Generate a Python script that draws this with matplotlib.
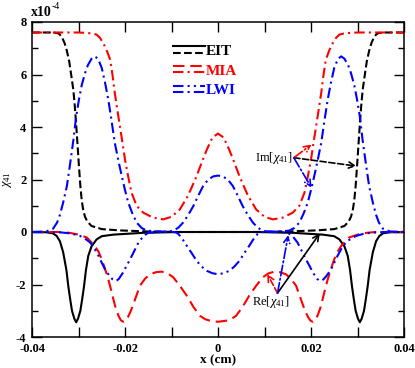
import matplotlib
matplotlib.use("Agg")
import matplotlib.pyplot as plt
from matplotlib.lines import Line2D
from matplotlib.ticker import MultipleLocator, FuncFormatter

plt.rcParams['font.family'] = ['Liberation Serif', 'DejaVu Serif']
plt.rcParams['mathtext.fontset'] = 'custom'
plt.rcParams['mathtext.rm'] = 'Liberation Serif'
plt.rcParams['mathtext.it'] = 'Liberation Serif:italic'
plt.rcParams['mathtext.bf'] = 'Liberation Serif:bold'
plt.rcParams['axes.unicode_minus'] = False

# chi_41 in units of 1e-4, x in cm
eit_im_x = [-0.040, -0.036, -0.0345, -0.034, -0.0335, -0.033, -0.0325, -0.032, -0.0315, -0.0311,
            -0.0308, -0.0305, -0.0302, -0.0299, -0.0296, -0.0293, -0.029, -0.0286, -0.0281, -0.0272,
            -0.025, -0.021, -0.015, -0.008, 0.0,
            0.008, 0.015, 0.021, 0.025, 0.0272, 0.0281, 0.0286, 0.029, 0.0293, 0.0296,
            0.0299, 0.0302, 0.0305, 0.0308, 0.0311, 0.0315, 0.032, 0.0325, 0.033, 0.0335,
            0.034, 0.0345, 0.036, 0.040]
eit_im_y = [7.6, 7.6, 7.58, 7.52, 7.4, 7.2, 6.9, 6.5, 5.9, 5.4,
            4.8, 4.1, 3.3, 2.5, 1.75, 1.2, 0.85, 0.58, 0.4, 0.23,
            0.11, 0.06, 0.02, 0.0, 0.0,
            0.0, 0.02, 0.06, 0.11, 0.23, 0.4, 0.58, 0.85, 1.2, 1.75,
            2.5, 3.3, 4.1, 4.8, 5.4, 5.9, 6.5, 6.9, 7.2, 7.4,
            7.52, 7.58, 7.6, 7.6]

eit_re_x = [-0.040, -0.037, -0.0355, -0.0347, -0.034, -0.0333, -0.0326, -0.0322, -0.0318, -0.0314,
            -0.0309, -0.0305, -0.0301, -0.0296, -0.0292, -0.0288, -0.0284, -0.0279, -0.0272, -0.0261,
            -0.025, -0.0225, -0.016, -0.008, 0.0,
            0.008, 0.016, 0.0225, 0.025, 0.0261, 0.0272, 0.0279, 0.0284, 0.0288, 0.0292,
            0.0296, 0.0301, 0.0305, 0.0309, 0.0314, 0.0318, 0.0322, 0.0326, 0.0333, 0.034,
            0.0347, 0.0355, 0.037, 0.040]
eit_re_y = [0.0, -0.01, -0.05, -0.15, -0.35, -0.77, -1.45, -2.05, -2.55, -3.0,
            -3.3, -3.44, -3.3, -3.0, -2.55, -2.05, -1.45, -0.91, -0.55, -0.28,
            -0.16, -0.1, -0.03, 0.0, 0.0,
            0.0, -0.03, -0.1, -0.16, -0.28, -0.55, -0.91, -1.45, -2.05, -2.55,
            -3.0, -3.3, -3.44, -3.3, -3.0, -2.55, -2.05, -1.45, -0.77, -0.35,
            -0.15, -0.05, -0.01, 0.0]

mia_im_x = [-0.040, -0.030, -0.028, -0.027, -0.0261, -0.0254, -0.0247, -0.024, -0.0232, -0.0227,
            -0.0222, -0.0216, -0.0211, -0.0205, -0.020, -0.0193, -0.0186, -0.0175, -0.0161, -0.014,
            -0.0118, -0.010, -0.0082, -0.0064, -0.0046, -0.0035, -0.0024, -0.0012, 0.0,
            0.0012, 0.0024, 0.0035, 0.0046, 0.0064, 0.0082, 0.010, 0.0118, 0.014, 0.0161,
            0.0175, 0.0186, 0.0193, 0.020, 0.0205, 0.0211, 0.0216, 0.0222, 0.0227, 0.0232,
            0.024, 0.0247, 0.0254, 0.0261, 0.027, 0.028, 0.030, 0.040]
mia_im_y = [7.6, 7.6, 7.58, 7.56, 7.52, 7.4, 7.2, 6.95, 6.57, 6.0,
            5.3, 4.6, 4.03, 3.35, 2.76, 2.1, 1.5, 1.0, 0.74, 0.55,
            0.48, 0.58, 0.86, 1.4, 2.13, 2.65, 3.14, 3.6, 3.75,
            3.6, 3.14, 2.65, 2.13, 1.4, 0.86, 0.58, 0.48, 0.55, 0.74,
            1.0, 1.5, 2.1, 2.76, 3.35, 4.03, 4.6, 5.3, 6.0, 6.57,
            6.95, 7.2, 7.4, 7.52, 7.56, 7.58, 7.6, 7.6]

mia_re_x = [-0.040, -0.034, -0.032, -0.030, -0.0282, -0.0265, -0.0257, -0.025, -0.0243, -0.0236,
            -0.023, -0.0225, -0.022, -0.0214, -0.0209, -0.0204, -0.0199, -0.0194, -0.0189, -0.0183,
            -0.0176, -0.0168, -0.0157, -0.0146, -0.0133, -0.0121, -0.0108, -0.0096, -0.0082, -0.0067,
            -0.0053, -0.0039, -0.0028, -0.0017, 0.0,
            0.0017, 0.0028, 0.0039, 0.0053, 0.0067, 0.0082, 0.0096, 0.0108, 0.0121, 0.0133,
            0.0146, 0.0157, 0.0168, 0.0176, 0.0183, 0.0189, 0.0194, 0.0199, 0.0204, 0.0209,
            0.0214, 0.022, 0.0225, 0.023, 0.0236, 0.0243, 0.025, 0.0257, 0.0265, 0.0282,
            0.030, 0.032, 0.034, 0.040]
mia_re_y = [0.0, 0.0, -0.03, -0.1, -0.21, -0.53, -0.75, -1.04, -1.4, -1.8,
            -2.2, -2.56, -2.9, -3.19, -3.36, -3.42, -3.38, -3.25, -3.07, -2.8,
            -2.45, -2.05, -1.78, -1.61, -1.53, -1.51, -1.58, -1.73, -2.05, -2.43,
            -2.85, -3.19, -3.32, -3.38, -3.42,
            -3.38, -3.32, -3.19, -2.85, -2.43, -2.05, -1.73, -1.58, -1.51, -1.53,
            -1.61, -1.78, -2.05, -2.45, -2.8, -3.07, -3.25, -3.38, -3.42, -3.36,
            -3.19, -2.9, -2.56, -2.2, -1.8, -1.4, -1.04, -0.75, -0.53, -0.21,
            -0.1, -0.03, 0.0, 0.0]

lwi_im_x = [-0.040, -0.037, -0.0355, -0.0346, -0.034, -0.0333, -0.0325, -0.0318, -0.0311, -0.0305,
            -0.0299, -0.0293, -0.0286, -0.028, -0.0272, -0.0265, -0.0258, -0.025, -0.0243, -0.0236,
            -0.0229, -0.0222, -0.0214, -0.0207, -0.020, -0.0193, -0.0184, -0.0175, -0.0164, -0.0153,
            -0.013, -0.0105, -0.0095, -0.0085, -0.0075, -0.0064, -0.0053, -0.0042, -0.0032, -0.0021,
            -0.001, 0.0,
            0.001, 0.0021, 0.0032, 0.0042, 0.0053, 0.0064, 0.0075, 0.0085, 0.0095, 0.0105,
            0.013, 0.0153, 0.0164, 0.0175, 0.0184, 0.0193, 0.020, 0.0207, 0.0214, 0.0222,
            0.0229, 0.0236, 0.0243, 0.025, 0.0258, 0.0265, 0.0272, 0.028, 0.0286, 0.0293,
            0.0299, 0.0305, 0.0311, 0.0318, 0.0325, 0.0333, 0.034, 0.0346, 0.0355, 0.037,
            0.040]
lwi_im_y = [0.0, 0.02, 0.12, 0.36, 0.65, 1.12, 1.75, 2.6, 3.5, 4.4,
            5.05, 5.6, 6.05, 6.35, 6.6, 6.69, 6.6, 6.25, 5.7, 5.05,
            4.25, 3.4, 2.7, 2.13, 1.6, 1.12, 0.7, 0.36, 0.15, 0.05,
            0.02, 0.02, 0.06, 0.17, 0.36, 0.65, 0.99, 1.4, 1.75, 2.0,
            2.12, 2.15,
            2.12, 2.0, 1.75, 1.4, 0.99, 0.65, 0.36, 0.17, 0.06, 0.02,
            0.02, 0.05, 0.15, 0.36, 0.7, 1.12, 1.6, 2.13, 2.7, 3.4,
            4.25, 5.05, 5.7, 6.25, 6.6, 6.69, 6.6, 6.35, 6.05, 5.6,
            5.05, 4.4, 3.5, 2.6, 1.75, 1.12, 0.65, 0.36, 0.12, 0.02,
            0.0]

lwi_re_x = [-0.040, -0.036, -0.0335, -0.0315, -0.0297, -0.0286, -0.0275, -0.0266, -0.0257, -0.025,
            -0.0243, -0.0237, -0.0232, -0.0227, -0.0222, -0.0217, -0.0213, -0.0204, -0.0197, -0.0189,
            -0.018, -0.0171, -0.016, -0.015, -0.013, -0.0095, -0.009, -0.0085, -0.0076, -0.0067,
            -0.0056, -0.0046, -0.0035, -0.0024, -0.0012, 0.0,
            0.0012, 0.0024, 0.0035, 0.0046, 0.0056, 0.0067, 0.0076, 0.0085, 0.009, 0.0095,
            0.013, 0.015, 0.016, 0.0171, 0.018, 0.0189, 0.0197, 0.0204, 0.0213, 0.0217,
            0.0222, 0.0227, 0.0232, 0.0237, 0.0243, 0.025, 0.0257, 0.0266, 0.0275, 0.0286,
            0.0297, 0.0315, 0.0335, 0.036, 0.040]
lwi_re_y = [0.0, 0.0, -0.02, -0.06, -0.15, -0.25, -0.4, -0.62, -0.91, -1.17,
            -1.42, -1.58, -1.7, -1.8, -1.86, -1.84, -1.78, -1.54, -1.3, -1.04,
            -0.72, -0.4, -0.15, -0.03, 0.0, 0.0, -0.02, -0.08, -0.28, -0.53,
            -0.82, -1.1, -1.32, -1.48, -1.57, -1.61,
            -1.57, -1.48, -1.32, -1.1, -0.82, -0.53, -0.28, -0.08, -0.02, 0.0,
            0.0, -0.03, -0.15, -0.4, -0.72, -1.04, -1.3, -1.54, -1.78, -1.84,
            -1.86, -1.8, -1.7, -1.58, -1.42, -1.17, -0.91, -0.62, -0.4, -0.25,
            -0.15, -0.06, -0.02, 0.0, 0.0]

legend_labels = ["EIT", "MIA", "LWI"]

RED = '#ff0000'
BLUE = '#0000ff'
LW = 1.5
DASH = (0, (3.7, 1.6))
LONGDASH = (0, (5.5, 2.8))
DASHDOT = (0, (5.0, 2.0, 1.0, 2.0))
DASHDOTDOT = (0, (5.0, 2.0, 1.0, 2.0, 1.0, 2.0))


class PairHandler:
    """legend handle: Re line on top, Im line below"""
    def legend_artist(self, legend, orig_handle, fontsize, handlebox):
        x0, y0 = handlebox.xdescent, handlebox.ydescent
        w, h = handlebox.width, handlebox.height
        last = None
        for src, frac in zip(orig_handle, (0.8, 0.2)):
            ln = Line2D([x0, x0 + w], [y0 + frac * h] * 2)
            ln.update_from(src)
            ln.set_transform(handlebox.get_transform())
            handlebox.add_artist(ln)
            last = ln
        return last


fig = plt.figure(figsize=(4.15, 3.68), dpi=100)
ax = fig.add_axes([32 / 415, 31 / 368, 372 / 415, 315 / 368])

re_eit, = ax.plot(eit_re_x, eit_re_y, color='black', lw=LW, linestyle='-')
im_eit, = ax.plot(eit_im_x, eit_im_y, color='black', lw=LW, linestyle=DASH)
re_mia, = ax.plot(mia_re_x, mia_re_y, color=RED, lw=LW, linestyle=LONGDASH)
im_mia, = ax.plot(mia_im_x, mia_im_y, color=RED, lw=LW, linestyle=DASHDOT)
re_lwi, = ax.plot(lwi_re_x, lwi_re_y, color=BLUE, lw=LW, linestyle=DASHDOTDOT)
im_lwi, = ax.plot(lwi_im_x, lwi_im_y, color=BLUE, lw=LW, linestyle=DASHDOT)

ax.set_xlim(-0.04, 0.04)
ax.set_ylim(-4, 8)
ax.xaxis.set_major_locator(MultipleLocator(0.02))
ax.xaxis.set_minor_locator(MultipleLocator(0.01))
ax.yaxis.set_major_locator(MultipleLocator(2))
ax.yaxis.set_minor_locator(MultipleLocator(1))
ax.xaxis.set_major_formatter(FuncFormatter(lambda v, p: '%g' % round(v, 4)))
ax.yaxis.set_major_formatter(FuncFormatter(lambda v, p: '%g' % v))
ax.tick_params(which='both', direction='in', top=True, right=True, width=1.0)
ax.tick_params(which='major', length=7, labelsize=9)
ax.tick_params(axis='x', which='major', pad=4.5)
ax.tick_params(axis='y', which='major', pad=4)
ax.tick_params(axis='y', which='minor', length=4)
ax.tick_params(axis='x', which='minor', length=7)
for lab in ax.get_xticklabels() + ax.get_yticklabels():
    lab.set_fontweight('bold')
for sp in ax.spines.values():
    sp.set_linewidth(1.1)

ax.set_xlabel('x (cm)', fontsize=9.5, fontweight='bold', labelpad=-1)
ax.set_ylabel(r'$\chi_{41}$', fontsize=9)
ax.yaxis.set_label_coords(-0.048, 0.5)

fig.text(31 / 415, 1 - 16 / 368, 'x10', fontsize=10, fontweight='bold', va='baseline')
fig.text(52 / 415, 1 - 9 / 368, '-4', fontsize=7, va='baseline')

leg = ax.legend([(re_eit, im_eit), (re_mia, im_mia), (re_lwi, im_lwi)], legend_labels,
                handler_map={tuple: PairHandler()}, loc='upper left',
                bbox_to_anchor=(0.379, 0.93), frameon=False, borderpad=0, borderaxespad=0,
                handlelength=2.1, handletextpad=0.05, labelspacing=0.4,
                prop={'weight': 'bold', 'size': 11})
for txt, c in zip(leg.get_texts(), ['black', RED, BLUE]):
    txt.set_color(c)

# Im annotation
ax.text(0.0080, 2.83, r'Im[$\chi_{41}$]', fontsize=9, ha='left', va='center')
for tgt, c, ls in [((0.0298, 2.51), 'black', '--'), ((0.0201, 3.33), RED, '-.'),
                   ((0.0201, 1.69), BLUE, '-.')]:
    ax.annotate('', xy=tgt, xytext=(0.0163, 2.83),
                arrowprops=dict(arrowstyle='->', color=c, lw=1.2, linestyle=ls,
                                shrinkA=0, shrinkB=0, mutation_scale=11))

# Re annotation
ax.text(0.0114, -2.66, r'Re[$\chi_{41}$]', fontsize=9, ha='center', va='center')
for tgt, c, ls in [((0.0219, -0.05), 'black', '-'), ((0.0106, -1.6), RED, '--'),
                   ((0.0151, -0.12), BLUE, '-.')]:
    ax.annotate('', xy=tgt, xytext=(0.0128, -2.33),
                arrowprops=dict(arrowstyle='->', color=c, lw=1.2, linestyle=ls,
                                shrinkA=0, shrinkB=0, mutation_scale=11))

fig.savefig('out.png', dpi=100)
